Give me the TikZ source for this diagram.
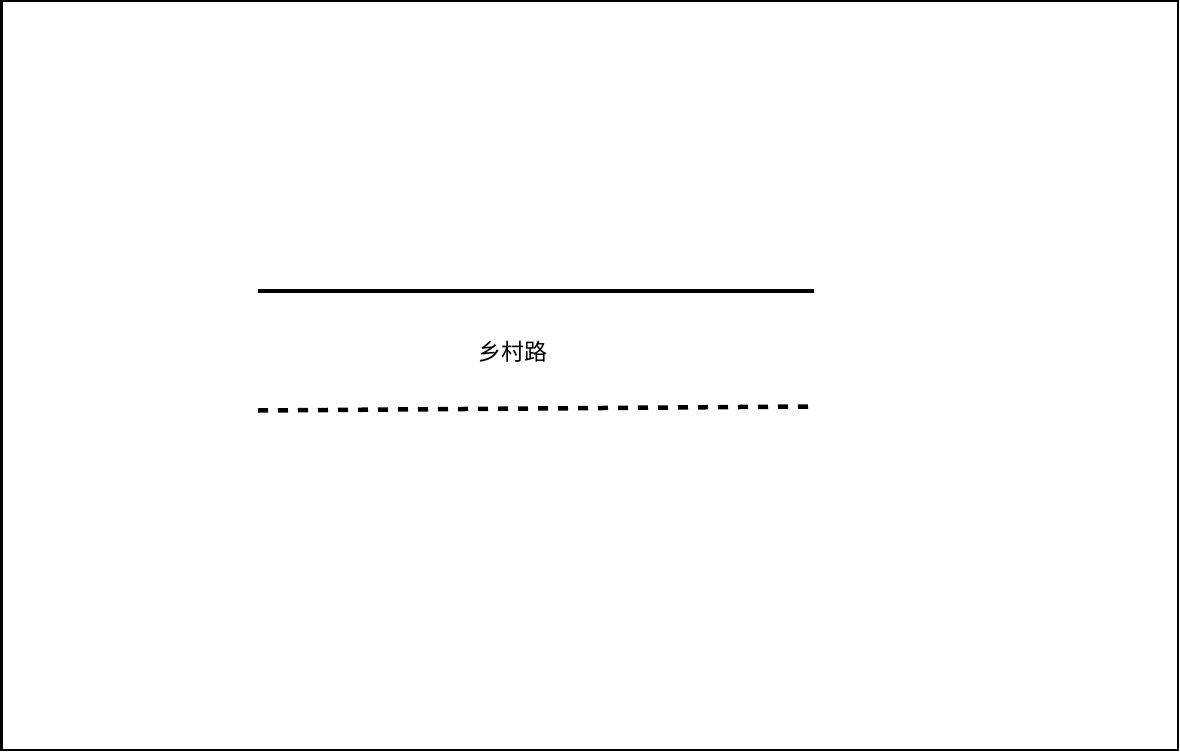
\documentclass[tikz,border=0pt]{standalone}
\usepackage{fontspec}
\newfontfamily\cjk{Noto Sans CJK SC}
\tikzset{
  frame/.style={draw=black, line width=2.5pt},
  roadedge/.style={draw=black, line width=4.5pt},
  roaddash/.style={draw=black, line width=4.5pt, dash pattern=on 10pt off 10pt},
  lbl/.style={font=\cjk\fontsize{23}{27}\selectfont, inner sep=0pt}
}
\begin{document}
\begin{tikzpicture}[x=1pt,y=-1pt]
\useasboundingbox (0,0) rectangle (1180,752);
\draw[frame] (1.25,1.25) rectangle (1177.75,749.75);
\coordinate (s1) at (258,291);
\coordinate (s2) at (814,291);
\draw[roadedge] (s1) -- (s2);
\node[lbl] (t) at (513,352) {乡村路};
\coordinate (d1) at (258,410.5);
\coordinate (d2) at (808,406.5);
\draw[roaddash] (d1) -- (d2);
\end{tikzpicture}
\end{document}
